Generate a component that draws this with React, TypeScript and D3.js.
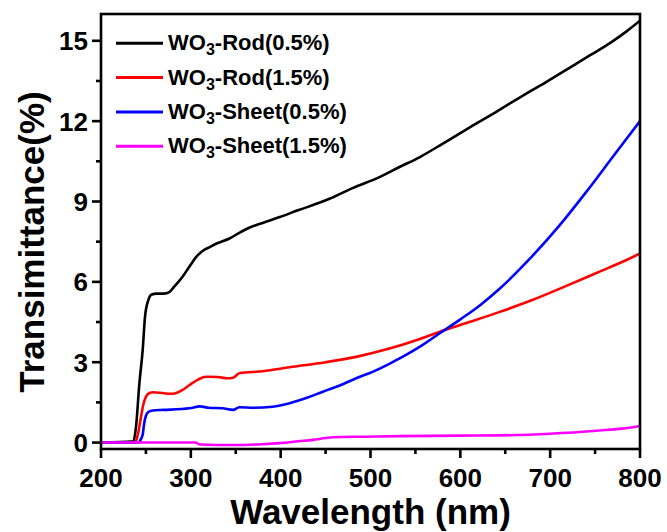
import React from "react";
import * as d3 from "d3";

// Transmittance spectra (wavelength in nm, transmittance in %)
const rod05Wl = [200, 236, 239, 242.7, 246.4, 249, 252.7, 256, 262, 270, 276, 282, 291, 300, 306, 313, 321, 330, 343, 355, 365, 380, 399, 420, 443, 455, 480, 510, 530, 555, 580, 611, 640, 667, 695, 722, 745, 767, 785, 800];
const rod05T = [0, 0.05, 0.6, 2.2, 3.45, 4.7, 5.32, 5.52, 5.56, 5.56, 5.62, 5.84, 6.2, 6.65, 6.93, 7.15, 7.3, 7.45, 7.62, 7.85, 8.02, 8.2, 8.42, 8.68, 8.95, 9.11, 9.5, 9.91, 10.25, 10.66, 11.15, 11.78, 12.35, 12.9, 13.45, 14.0, 14.47, 14.92, 15.35, 15.75];

const rod15Wl = [200, 238, 241, 244.6, 247, 250, 254, 258, 270, 280, 290, 298.5, 308, 317, 330, 340, 347, 354, 380, 410, 450, 484, 520, 555, 577, 610, 644, 680, 718, 755, 780, 800];
const rod15T = [0, 0, 0.3, 0.97, 1.4, 1.71, 1.85, 1.88, 1.84, 1.82, 1.95, 2.15, 2.35, 2.46, 2.45, 2.4, 2.42, 2.59, 2.66, 2.81, 3.0, 3.2, 3.5, 3.87, 4.14, 4.5, 4.88, 5.32, 5.85, 6.38, 6.74, 7.06];

const sheet05Wl = [200, 242, 244, 246.4, 248, 250, 253, 257.5, 270, 298.5, 310, 320, 335, 347, 354, 370, 391, 410, 430, 447, 465, 484, 503, 521.5, 540, 555, 577, 600, 622, 644, 675, 709, 740, 770, 800];
const sheet05T = [0, 0, 0.1, 0.3, 0.7, 1.0, 1.15, 1.2, 1.22, 1.28, 1.35, 1.3, 1.28, 1.22, 1.32, 1.3, 1.34, 1.47, 1.68, 1.9, 2.12, 2.4, 2.65, 2.95, 3.28, 3.58, 4.08, 4.6, 5.13, 5.75, 6.78, 8.05, 9.35, 10.68, 12.0];

const sheet15Wl = [200, 305, 310, 347, 380, 399, 420, 436, 450, 458, 495, 533, 600, 644, 700, 755, 780, 800];
const sheet15T = [0, 0, -0.07, -0.09, -0.06, -0.02, 0.05, 0.1, 0.17, 0.2, 0.22, 0.24, 0.26, 0.27, 0.33, 0.45, 0.52, 0.62];

const seriesNames = ["Rod(0.5%)", "Rod(1.5%)", "Sheet(0.5%)", "Sheet(1.5%)"];
const seriesColors = ["#000000", "#ff0000", "#0000ff", "#ff00ff"];
const seriesWl = [rod05Wl, rod15Wl, sheet05Wl, sheet15Wl];
const seriesT = [rod05T, rod15T, sheet05T, sheet15T];

const xTicks = [200, 300, 400, 500, 600, 700, 800];
const xMinor = [250, 350, 450, 550, 650, 750];
const yTicks = [0, 3, 6, 9, 12, 15];
const yMinor = [1.5, 4.5, 7.5, 10.5, 13.5];

const W = 667;
const H = 532;
const left = 101;
const right = 640;
const top = 14;
const bottom = 449;

const font = "'Liberation Sans', Arial, sans-serif";

export default function App() {
  const x = d3.scaleLinear().domain([200, 800]).range([left, right]);
  const y = d3.scaleLinear().domain([-0.24, 16]).range([bottom, top]);

  const line = d3
    .line<[number, number]>()
    .x((d) => x(d[0]))
    .y((d) => y(d[1]))
    .curve(d3.curveMonotoneX);

  const paths = seriesWl.map((wl, i) => line(wl.map((w, j) => [w, seriesT[i][j]] as [number, number])) || "");

  return (
    <svg width={W} height={H} style={{ position: "absolute", left: 0, top: 0, background: "#fff" }}>
      <rect x={0} y={0} width={W} height={H} fill="#fff" />
      <defs>
        <clipPath id="plot">
          <rect x={left} y={top} width={right - left} height={bottom - top} />
        </clipPath>
      </defs>

      <g clipPath="url(#plot)">
        {paths.map((p, i) => (
          <path key={i} d={p} fill="none" stroke={seriesColors[i]} strokeWidth={2.6} strokeLinejoin="round" />
        ))}
      </g>

      {/* frame */}
      <rect x={left} y={top} width={right - left} height={bottom - top} fill="none" stroke="#000" strokeWidth={2.6} />

      {/* x axis ticks */}
      {xTicks.map((t) => (
        <g key={"xt" + t}>
          <line x1={x(t)} x2={x(t)} y1={bottom} y2={bottom + 9} stroke="#000" strokeWidth={2.6} />
          <text x={x(t)} y={487} textAnchor="middle" fontFamily={font} fontWeight="bold" fontSize={26}>
            {t}
          </text>
        </g>
      ))}
      {xMinor.map((t) => (
        <line key={"xm" + t} x1={x(t)} x2={x(t)} y1={bottom} y2={bottom + 5} stroke="#000" strokeWidth={2.6} />
      ))}

      {/* y axis ticks */}
      {yTicks.map((t) => (
        <g key={"yt" + t}>
          <line x1={left - 9} x2={left} y1={y(t)} y2={y(t)} stroke="#000" strokeWidth={2.6} />
          <text x={88} y={y(t) + 9.5} textAnchor="end" fontFamily={font} fontWeight="bold" fontSize={26}>
            {t}
          </text>
        </g>
      ))}
      {yMinor.map((t) => (
        <line key={"ym" + t} x1={left - 5} x2={left} y1={y(t)} y2={y(t)} stroke="#000" strokeWidth={2.6} />
      ))}

      {/* axis titles */}
      <text x={(left + right) / 2} y={524} textAnchor="middle" fontFamily={font} fontWeight="bold" fontSize={35}>
        Wavelength (nm)
      </text>
      <text
        transform={`translate(44, 242) rotate(-90)`}
        textAnchor="middle"
        fontFamily={font}
        fontWeight="bold"
        fontSize={35}
      >
        Transimittance(%)
      </text>

      {/* legend */}
      {seriesNames.map((name, i) => {
        const cy = 43.3 + i * 34.3;
        return (
          <g key={"lg" + i}>
            <line x1={116} x2={163} y1={cy} y2={cy} stroke={seriesColors[i]} strokeWidth={3} />
            <text x={168} y={cy + 7} fontFamily={font} fontWeight="bold" fontSize={22}>
              WO
              <tspan fontSize={16} dy={5}>
                3
              </tspan>
              <tspan dy={-5}>-{name}</tspan>
            </text>
          </g>
        );
      })}
    </svg>
  );
}
